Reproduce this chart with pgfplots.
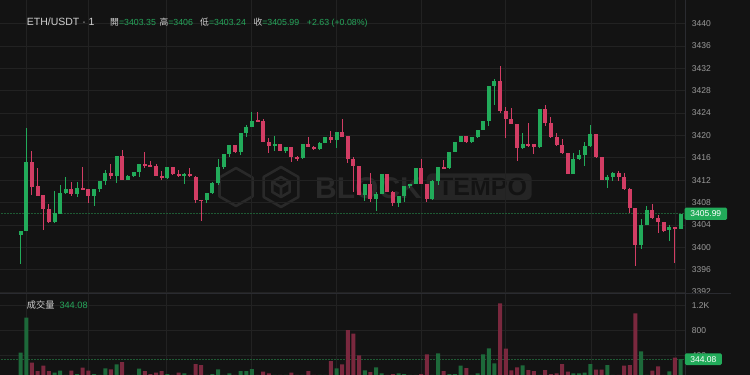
\documentclass[border=0pt]{standalone}
\usepackage{pgfplots}
\pgfplotsset{compat=1.18}
\usepackage{pgfplotstable}
\usepackage{fontspec}
\setmainfont{Liberation Sans}
\newfontfamily\cjk{Noto Sans CJK TC}
\definecolor{bgc}{HTML}{131313}
\definecolor{gridc}{HTML}{222222}
\definecolor{cgreen}{HTML}{22AB5A}
\definecolor{cred}{HTML}{D23D64}
\definecolor{vgreen}{HTML}{1D693A}
\definecolor{vred}{HTML}{7A283E}
\definecolor{labc}{HTML}{9A9A9A}
\definecolor{hdr}{HTML}{D0D0D0}
\definecolor{valc}{HTML}{26A65B}
\definecolor{dashc}{HTML}{1E5A34}
\definecolor{wm}{HTML}{292929}
\definecolor{wmbox}{HTML}{252525}
\definecolor{sepc}{HTML}{2A2B30}

\pgfplotstableread{
i o h l c v
0 3402.25 3403.0 3397.0 3402.97 448
1 3402.97 3421.26 3402.9 3415.3 1008
2 3415.3 3417.2 3409.3 3410.83 288
3 3410.9 3414.1 3409.1 3409.2 155
4 3409.3 3409.4 3403.1 3406.84 240
5 3406.84 3407.7 3404.3 3404.46 155
6 3404.58 3410.1 3404.3 3406.07 129
7 3405.95 3411.13 3405.9 3409.64 160
8 3409.64 3412.5 3409.6 3410.42 50
9 3410.42 3411.6 3409.2 3409.52 160
10 3409.52 3411.6 3409.05 3410.54 107
11 3410.54 3414.3 3410.3 3410.36 208
12 3410.42 3410.5 3407.97 3409.17 160
13 3409.17 3410.5 3407.4 3410.42 107
14 3410.36 3411.95 3409.94 3411.91 50
15 3411.91 3413.8 3411.13 3413.22 198
16 3413.22 3414.9 3412.15 3412.8 182
17 3412.8 3416.35 3411.43 3416.32 262
18 3416.32 3417.39 3412.0 3412.03 299
19 3412.03 3413.0 3412.0 3412.74 50
20 3412.74 3413.55 3412.6 3413.52 50
21 3413.52 3414.85 3412.5 3414.83 192
22 3414.89 3417.0 3414.23 3414.71 155
23 3414.71 3415.4 3414.4 3414.41 107
24 3414.53 3414.9 3412.8 3412.8 129
25 3412.8 3413.6 3412.03 3412.32 155
26 3412.32 3414.4 3412.2 3414.3 107
27 3414.3 3414.4 3413.0 3413.04 50
28 3413.04 3413.8 3412.6 3412.74 129
29 3412.74 3413.2 3411.3 3413.16 118
30 3413.16 3414.1 3412.6 3412.74 50
31 3412.62 3412.7 3407.97 3408.45 267
32 3408.45 3408.5 3404.76 3408.33 251
33 3408.45 3409.7 3407.97 3409.64 50
34 3409.64 3411.6 3409.6 3411.43 107
35 3411.43 3415.72 3411.13 3414.3 182
36 3414.3 3416.7 3413.94 3416.67 50
37 3416.67 3418.3 3416.2 3418.28 118
38 3418.28 3418.3 3416.9 3417.09 50
39 3417.09 3420.5 3416.5 3420.49 155
40 3420.49 3421.86 3419.65 3421.56 155
41 3421.56 3424.24 3421.5 3422.63 187
42 3422.7 3424.1 3422.5 3422.6 50
43 3422.63 3422.9 3418.8 3418.88 144
44 3418.88 3419.48 3416.79 3418.16 118
45 3418.16 3419.9 3417.27 3418.46 50
46 3418.46 3418.5 3417.2 3417.27 50
47 3417.27 3417.9 3416.79 3417.87 50
48 3417.87 3417.9 3415.3 3416.2 129
49 3416.2 3416.25 3415.48 3415.9 50
50 3415.9 3418.5 3415.85 3418.46 50
51 3418.46 3419.77 3417.95 3417.99 155
52 3417.99 3418.05 3417.45 3417.51 50
53 3417.51 3418.75 3417.45 3418.7 50
54 3418.7 3419.7 3418.6 3419.65 50
55 3419.65 3420.85 3418.58 3419.18 315
56 3419.18 3420.7 3417.69 3420.67 198
57 3420.67 3422.87 3419.7 3419.77 262
58 3419.89 3419.95 3415.0 3415.72 811
59 3415.72 3416.08 3409.94 3414.53 752
60 3414.53 3414.6 3409.3 3409.34 406
61 3409.34 3411.35 3408.33 3411.31 166
62 3411.31 3413.34 3408.15 3408.63 139
63 3408.63 3409.94 3406.54 3409.52 214
64 3409.52 3413.15 3409.5 3413.1 118
65 3413.1 3413.15 3409.9 3409.94 50
66 3409.94 3410.1 3407.38 3407.85 107
67 3407.85 3409.2 3407.26 3409.17 118
68 3409.17 3411.0 3408.15 3410.95 107
69 3410.95 3411.35 3410.54 3411.31 50
70 3411.31 3414.15 3411.25 3414.11 50
71 3414.11 3415.78 3411.25 3411.31 107
72 3411.31 3411.35 3408.15 3408.57 422
73 3408.57 3411.95 3408.5 3411.91 50
74 3411.91 3414.45 3411.13 3414.41 438
75 3414.41 3415.6 3414.05 3414.11 155
76 3414.11 3417.1 3414.05 3417.09 107
77 3417.09 3418.9 3417.0 3418.88 107
78 3418.88 3419.9 3418.8 3419.89 240
79 3419.89 3419.95 3418.7 3418.76 203
80 3418.76 3419.7 3418.7 3419.65 50
81 3419.65 3421.0 3419.6 3420.97 118
82 3420.97 3422.6 3420.9 3422.57 422
83 3422.57 3428.85 3421.74 3428.83 518
84 3428.83 3430.02 3425.43 3429.72 278
85 3429.72 3432.41 3423.94 3424.42 1238
86 3424.42 3425.02 3419.48 3422.87 513
87 3422.87 3424.84 3422.0 3422.04 166
88 3422.04 3422.1 3415.48 3417.69 214
89 3417.69 3420.49 3417.6 3418.46 246
90 3418.46 3422.16 3417.87 3418.1 171
91 3418.4 3418.45 3416.67 3417.87 155
92 3417.87 3424.7 3417.8 3424.66 50
93 3424.66 3425.43 3421.74 3422.16 171
94 3422.16 3423.23 3419.6 3419.65 107
95 3419.65 3420.49 3418.2 3418.28 118
96 3418.28 3419.3 3416.75 3416.79 267
97 3416.79 3416.85 3413.05 3413.1 145
98 3413.1 3416.79 3413.05 3415.78 118
99 3415.78 3417.39 3415.7 3416.5 118
100 3416.5 3418.88 3414.53 3418.1 129
101 3418.1 3421.86 3417.87 3420.25 267
102 3420.25 3420.3 3416.0 3416.08 176
103 3416.08 3416.1 3412.0 3412.03 176
104 3412.03 3412.9 3410.54 3412.62 251
105 3412.62 3413.5 3411.9 3413.22 50
106 3413.22 3413.64 3411.9 3412.62 50
107 3412.62 3413.34 3410.3 3410.36 240
108 3410.36 3410.54 3406.07 3406.96 251
109 3406.96 3407.0 3396.71 3400.4 1078
110 3400.4 3404.99 3399.63 3403.98 470
111 3403.98 3407.38 3403.9 3406.66 50
112 3406.66 3407.74 3405.1 3405.17 160
113 3405.17 3405.77 3402.61 3404.46 230
114 3404.46 3404.5 3402.8 3402.97 50
115 3403.09 3403.98 3401.18 3403.57 150
116 3403.68 3403.7 3397.13 3403.27 368
117 3403.35 3406 3403.24 3405.99 344.08
}\data

\pgfplotsset{
  chartbase/.style={
    scale only axis, width=685pt,
    xmin=-3.67, xmax=117.78,
    axis line style={draw=none}, tick style={draw=none}, major tick length=0pt,
    xtick={1.06,11.99,25.9,40.96,56.03,71.1,86.0,101.1,116.1}, xticklabels={},
    yticklabel pos=right,
    yticklabel style={anchor=west, inner sep=0pt, xshift=6.7pt, font=\fontsize{8.5}{10}\selectfont, text=labc},
    /pgf/number format/assume math mode=true, /pgf/number format/1000 sep={},
    grid=major, major grid style={draw=gridc, line width=0.8pt},
  },
  up/.style={restrict expr to domain={\thisrow{c}-\thisrow{o}}{0:1000}},
  down/.style={restrict expr to domain={\thisrow{c}-\thisrow{o}}{-1000:-0.00001}},
  candle/.style 2 args={forget plot, draw=none, mark=none,
    error bars/.cd, y dir=both, y explicit, error mark=none,
    error bar style={draw=#1, solid, line cap=butt, line width=#2}},
}

\begin{document}
\begin{tikzpicture}[x=1pt,y=1pt]
\useasboundingbox (0,0) rectangle (750,375);
\fill[bgc] (0,0) rectangle (750,375);

% watermark
\begin{scope}[draw=wm, line width=2.6pt, line join=round]
\draw (236,188) +(90:19) -- +(150:19) -- +(210:19) -- +(270:19) -- +(330:19) -- +(30:19) -- cycle;
\draw (281,188) +(90:20) -- +(150:20) -- +(210:20) -- +(270:20) -- +(330:20) -- +(30:20) -- cycle;
\draw (281,188) +(90:10) -- +(150:10) -- +(210:10) -- +(270:10) -- +(330:10) -- +(30:10) -- cycle;
\draw (281,188) -- +(270:10) (281,188) -- +(150:10) (281,188) -- +(30:10);
\end{scope}
\node[anchor=base west, inner sep=0pt, text=wm, font=\bfseries\fontsize{30}{32}\selectfont] at (315,176) {BLOCK};
\fill[wmbox, rounded corners=6pt] (426.7,175) rectangle (531.7,201.7);
\node[anchor=base west, inner sep=0pt, text=bgc, font=\bfseries\fontsize{25}{27}\selectfont] at (438,179) {TEMPO};

% price pane
\begin{axis}[chartbase,
  at={(0pt,82pt)}, anchor=south west, height=293pt,
  ymin=3391.83, ymax=3444.21,
  ytick={3392,3396,...,3440},
]
\addplot[forget plot, draw=dashc, line width=0.8pt, dash pattern=on 1.5pt off 1.5pt] coordinates {(-4,3405.99) (118,3405.99)};
\addplot[up, candle={cgreen}{1pt}]
  table[x=i, y expr={(\thisrow{h}+\thisrow{l})/2}, y error expr={(\thisrow{h}-\thisrow{l})/2}] {\data};
\addplot[down, candle={cred}{1pt}]
  table[x=i, y expr={(\thisrow{h}+\thisrow{l})/2}, y error expr={(\thisrow{h}-\thisrow{l})/2}] {\data};
\addplot[up, candle={cgreen}{4pt}]
  table[x=i, y expr={(\thisrow{o}+\thisrow{c})/2}, y error expr={max(abs(\thisrow{c}-\thisrow{o})/2,0.09)}] {\data};
\addplot[down, candle={cred}{4pt}]
  table[x=i, y expr={(\thisrow{o}+\thisrow{c})/2}, y error expr={max(abs(\thisrow{c}-\thisrow{o})/2,0.09)}] {\data};
\coordinate (pl) at (axis cs:117.78,3405.99);
\end{axis}

% volume pane
\begin{axis}[chartbase,
  at={(0pt,0pt)}, anchor=south west, height=81pt,
  ymin=91.2, ymax=1387,
  ytick={400,800,1200}, yticklabels={400,800,1.2K},
]
\addplot[forget plot, draw=dashc, line width=0.8pt, dash pattern=on 1.5pt off 1.5pt] coordinates {(-4,344.08) (118,344.08)};
\addplot[forget plot, ybar, bar width=4pt, bar shift=0pt, fill=vgreen, draw=none, up] table[x=i, y=v] {\data};
\addplot[forget plot, ybar, bar width=4pt, bar shift=0pt, fill=vred, draw=none, down] table[x=i, y=v] {\data};
\coordinate (vl) at (axis cs:117.78,344.08);
\end{axis}

% separators
\draw[sepc, line width=1pt] (0,81.5) -- (731,81.5);
\draw[sepc, line width=0.8pt] (685,0) -- (685,375);

% right value boxes
\node[fill=cgreen, text=white, rounded corners=1.5pt, inner sep=0pt, minimum width=42.7pt, minimum height=12.3pt, anchor=west, font=\fontsize{8.5}{10}\selectfont] at ([xshift=-0.7pt]pl) {3405.99};
\node[fill=cgreen, text=white, rounded corners=1.5pt, inner sep=0pt, minimum width=37pt, minimum height=11.7pt, anchor=west, font=\fontsize{8.5}{10}\selectfont] at ([xshift=-0.3pt]vl) {344.08};

% header
\node[anchor=base west, inner sep=0pt, text=hdr, font=\fontsize{10.5}{12}\selectfont] at (26.7,349.5) {ETH/USDT · 1};
\begin{scope}[every node/.style={anchor=base west, inner sep=0pt, font=\fontsize{8.8}{10}\selectfont}]
\node[text=hdr] at (110,349.5) {{\cjk 開}\textcolor{valc}{=3403.35}};
\node[text=hdr] at (159.3,349.5) {{\cjk 高}\textcolor{valc}{=3406}};
\node[text=hdr] at (200,349.5) {{\cjk 低}\textcolor{valc}{=3403.24}};
\node[text=hdr] at (253.3,349.5) {{\cjk 收}\textcolor{valc}{=3405.99}};
\node[text=valc] at (306.7,349.5) {+2.63 (+0.08\%)};
\node[text=hdr, font=\fontsize{9.2}{11}\selectfont] at (26.7,66) {{\cjk 成交量}};
\node[text=valc, font=\fontsize{9.2}{11}\selectfont] at (59.3,66) {344.08};
\end{scope}
\end{tikzpicture}
\end{document}
